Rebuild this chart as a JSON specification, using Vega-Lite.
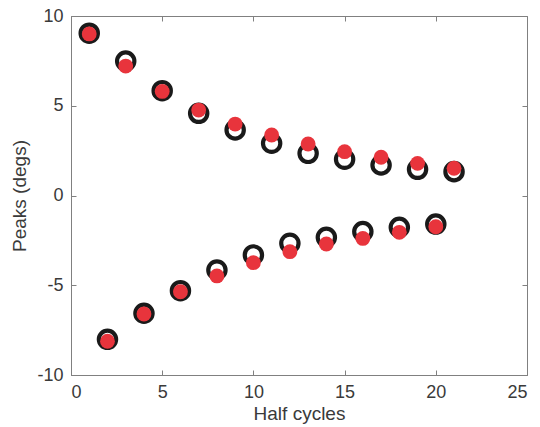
{
  "$schema": "https://vega.github.io/schema/vega-lite/v6.json",
  "width": 456,
  "height": 359,
  "autosize": {"type": "none"},
  "padding": {"left": 71, "top": 16, "right": 13, "bottom": 52},
  "background": "white",
  "config": {
    "view": {"stroke": "#808080", "strokeWidth": 1},
    "axis": {
      "grid": false,
      "domainColor": "#808080",
      "tickColor": "#808080",
      "tickSize": -5,
      "labelFont": "Liberation Sans",
      "labelFontSize": 18,
      "labelColor": "#3a3a3a",
      "titleFont": "Liberation Sans",
      "titleFontSize": 19,
      "titleFontWeight": "normal",
      "titleColor": "#3a3a3a"
    }
  },
  "data": {
    "values": [
      {"x": 1, "y": 9.04, "s": "black"},
      {"x": 3, "y": 7.49, "s": "black"},
      {"x": 5, "y": 5.84, "s": "black"},
      {"x": 7, "y": 4.58, "s": "black"},
      {"x": 9, "y": 3.65, "s": "black"},
      {"x": 11, "y": 2.91, "s": "black"},
      {"x": 13, "y": 2.35, "s": "black"},
      {"x": 15, "y": 2.02, "s": "black"},
      {"x": 17, "y": 1.70, "s": "black"},
      {"x": 19, "y": 1.46, "s": "black"},
      {"x": 21, "y": 1.33, "s": "black"},
      {"x": 2, "y": -8.01, "s": "black"},
      {"x": 4, "y": -6.56, "s": "black"},
      {"x": 6, "y": -5.30, "s": "black"},
      {"x": 8, "y": -4.15, "s": "black"},
      {"x": 10, "y": -3.31, "s": "black"},
      {"x": 12, "y": -2.66, "s": "black"},
      {"x": 14, "y": -2.33, "s": "black"},
      {"x": 16, "y": -2.01, "s": "black"},
      {"x": 18, "y": -1.77, "s": "black"},
      {"x": 20, "y": -1.59, "s": "black"},
      {"x": 1, "y": 9.0, "s": "red"},
      {"x": 3, "y": 7.21, "s": "red"},
      {"x": 5, "y": 5.8, "s": "red"},
      {"x": 7, "y": 4.76, "s": "red"},
      {"x": 9, "y": 3.98, "s": "red"},
      {"x": 11, "y": 3.37, "s": "red"},
      {"x": 13, "y": 2.87, "s": "red"},
      {"x": 15, "y": 2.44, "s": "red"},
      {"x": 17, "y": 2.13, "s": "red"},
      {"x": 19, "y": 1.79, "s": "red"},
      {"x": 21, "y": 1.52, "s": "red"},
      {"x": 2, "y": -8.12, "s": "red"},
      {"x": 4, "y": -6.6, "s": "red"},
      {"x": 6, "y": -5.36, "s": "red"},
      {"x": 8, "y": -4.48, "s": "red"},
      {"x": 10, "y": -3.74, "s": "red"},
      {"x": 12, "y": -3.13, "s": "red"},
      {"x": 14, "y": -2.70, "s": "red"},
      {"x": 16, "y": -2.39, "s": "red"},
      {"x": 18, "y": -2.05, "s": "red"},
      {"x": 20, "y": -1.74, "s": "red"}
    ]
  },
  "layer": [
    {
      "transform": [{"filter": "datum.s === 'black'"}],
      "mark": {"type": "point", "shape": "circle", "filled": false, "stroke": "#1a1a1a", "strokeWidth": 4.2, "size": 300, "opacity": 1},
      "encoding": {
        "x": {"field": "x", "type": "quantitative", "scale": {"domain": [0, 25], "nice": false}, "axis": {"title": "Half cycles", "values": [0, 5, 10, 15, 20, 25], "labelExpr": "toString(datum.value)", "labelPadding": 13, "titlePadding": 3}},
        "y": {"field": "y", "type": "quantitative", "scale": {"domain": [-10, 10], "nice": false}, "axis": {"title": "Peaks (degs)", "values": [-10, -5, 0, 5, 10], "labelExpr": "toString(datum.value)", "labelPadding": 13, "titlePadding": 7}}
      }
    },
    {
      "transform": [{"filter": "datum.s === 'red'"}],
      "mark": {"type": "circle", "color": "#e8343c", "size": 220, "opacity": 1},
      "encoding": {
        "x": {"field": "x", "type": "quantitative", "scale": {"domain": [0, 25], "nice": false}, "axis": {"orient": "top", "title": null, "labels": false, "domain": false, "values": [0, 5, 10, 15, 20, 25]}},
        "y": {"field": "y", "type": "quantitative", "scale": {"domain": [-10, 10], "nice": false}, "axis": {"orient": "right", "title": null, "labels": false, "domain": false, "values": [-10, -5, 0, 5, 10]}}
      }
    }
  ],
  "resolve": {"axis": {"x": "independent", "y": "independent"}}
}
